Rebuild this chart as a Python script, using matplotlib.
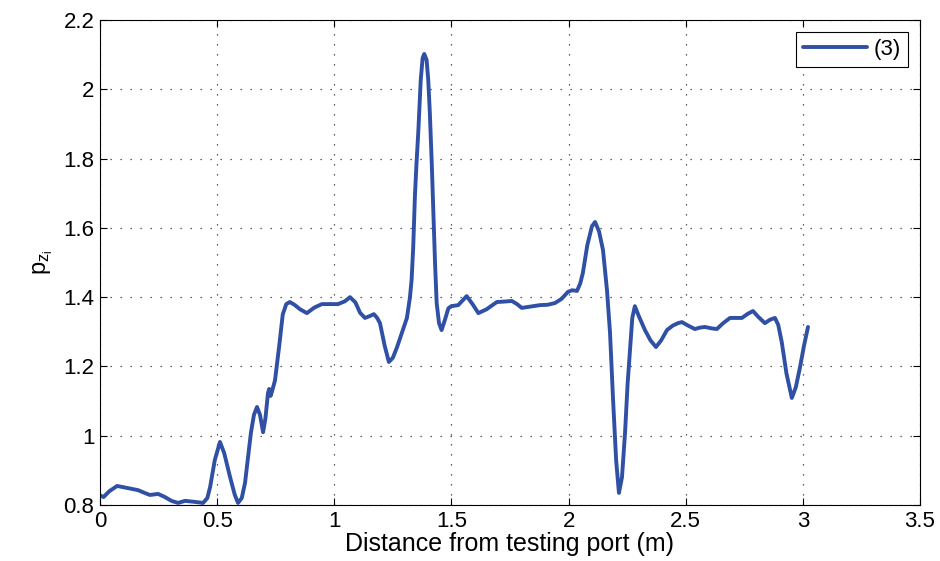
import matplotlib.pyplot as plt
import numpy as np
from matplotlib.ticker import FuncFormatter

plt.rcParams['font.family'] = ['Liberation Sans', 'DejaVu Sans']
plt.rcParams['mathtext.fontset'] = 'custom'
plt.rcParams['mathtext.rm'] = 'Liberation Sans'
plt.rcParams['mathtext.it'] = 'Liberation Sans'

# distance from testing port (m) and p_zi
dist = [0.000, 0.015, 0.040, 0.073, 0.110, 0.162, 0.190, 0.213, 0.248, 0.277,
        0.305, 0.333, 0.363, 0.405, 0.440, 0.458, 0.470, 0.490, 0.512, 0.530,
        0.555, 0.575, 0.589, 0.605, 0.619, 0.632, 0.644, 0.657, 0.670, 0.683,
        0.696, 0.706, 0.717, 0.722, 0.728, 0.735, 0.747, 0.765, 0.780, 0.795,
        0.810, 0.830, 0.854, 0.883, 0.915, 0.947, 1.016, 1.045, 1.067, 1.090,
        1.110, 1.131, 1.150, 1.169, 1.183, 1.195, 1.215, 1.233, 1.250, 1.268,
        1.290, 1.310, 1.323, 1.330, 1.337, 1.344, 1.351, 1.359, 1.369, 1.377,
        1.384, 1.394, 1.401, 1.408, 1.416, 1.423, 1.430, 1.437, 1.447, 1.458,
        1.472, 1.487, 1.500, 1.529, 1.565, 1.590, 1.615, 1.650, 1.694, 1.720,
        1.758, 1.780, 1.800, 1.830, 1.878, 1.910, 1.942, 1.970, 1.997, 2.015,
        2.036, 2.050, 2.061, 2.080, 2.100, 2.113, 2.130, 2.147, 2.164, 2.177,
        2.190, 2.203, 2.215, 2.228, 2.241, 2.252, 2.262, 2.272, 2.283, 2.300,
        2.326, 2.350, 2.373, 2.395, 2.420, 2.445, 2.467, 2.484, 2.510, 2.539,
        2.560, 2.582, 2.610, 2.633, 2.660, 2.689, 2.715, 2.740, 2.765, 2.787,
        2.810, 2.838, 2.860, 2.881, 2.895, 2.910, 2.930, 2.953, 2.970, 2.988,
        3.005, 3.022]
pz = [0.828, 0.823, 0.840, 0.855, 0.850, 0.843, 0.835, 0.829, 0.832, 0.823,
      0.812, 0.806, 0.812, 0.809, 0.806, 0.820, 0.852, 0.930, 0.982, 0.950,
      0.881, 0.830, 0.806, 0.820, 0.864, 0.940, 1.008, 1.060, 1.083, 1.060,
      1.010, 1.050, 1.123, 1.135, 1.115, 1.130, 1.160, 1.260, 1.350, 1.380,
      1.386, 1.378, 1.365, 1.354, 1.370, 1.380, 1.380, 1.388, 1.400, 1.385,
      1.355, 1.340, 1.345, 1.351, 1.340, 1.325, 1.260, 1.213, 1.225, 1.256,
      1.300, 1.340, 1.400, 1.450, 1.546, 1.690, 1.787, 1.883, 2.027, 2.090,
      2.102, 2.085, 2.027, 1.930, 1.787, 1.643, 1.499, 1.383, 1.325, 1.305,
      1.334, 1.368, 1.374, 1.377, 1.403, 1.380, 1.354, 1.365, 1.386, 1.387,
      1.389, 1.380, 1.369, 1.372, 1.377, 1.378, 1.383, 1.395, 1.415, 1.420,
      1.418, 1.440, 1.470, 1.550, 1.605, 1.617, 1.590, 1.536, 1.420, 1.297,
      1.103, 0.930, 0.835, 0.880, 1.008, 1.150, 1.247, 1.340, 1.374, 1.345,
      1.305, 1.275, 1.256, 1.275, 1.305, 1.318, 1.325, 1.328, 1.318, 1.308,
      1.312, 1.314, 1.310, 1.308, 1.325, 1.340, 1.340, 1.340, 1.352, 1.360,
      1.343, 1.325, 1.335, 1.340, 1.320, 1.270, 1.180, 1.109, 1.140, 1.198,
      1.260, 1.314]

xticks = [0, 0.5, 1, 1.5, 2, 2.5, 3, 3.5]
yticks = [0.8, 1, 1.2, 1.4, 1.6, 1.8, 2, 2.2]

fig = plt.figure(figsize=(9.4, 5.61), dpi=100)
ax = fig.add_axes([0.1064, 0.0998, 0.8723, 0.8645])

ax.plot(dist, pz, color='#2F50A5', linewidth=2.8, solid_joinstyle='round',
        solid_capstyle='round', label='(3)')

ax.set_xlim(0, 3.5)
ax.set_ylim(0.8, 2.2)
ax.set_xticks(xticks)
ax.set_yticks(yticks)
fmt = FuncFormatter(lambda v, p: '%g' % v)
ax.xaxis.set_major_formatter(fmt)
ax.yaxis.set_major_formatter(fmt)
ax.tick_params(direction='in', top=True, right=True, labelsize=16,
               length=5, width=0.8, pad=4)
ax.grid(True, linestyle=(0, (1, 7)), color='#333333', linewidth=0.9)
for s in ax.spines.values():
    s.set_linewidth(0.8)

ax.set_xlabel('Distance from testing port (m)', fontsize=18, labelpad=0)
ax.set_ylabel(r'$\mathregular{p_{z_i}}$', fontsize=17, labelpad=6)

leg = ax.legend(loc='upper right', fontsize=16, fancybox=False,
                edgecolor='black', framealpha=1, handlelength=2.9,
                handletextpad=0.3, borderaxespad=0.55, borderpad=0.3)
leg.get_frame().set_linewidth(0.8)

fig.savefig('out.png', dpi=100)
